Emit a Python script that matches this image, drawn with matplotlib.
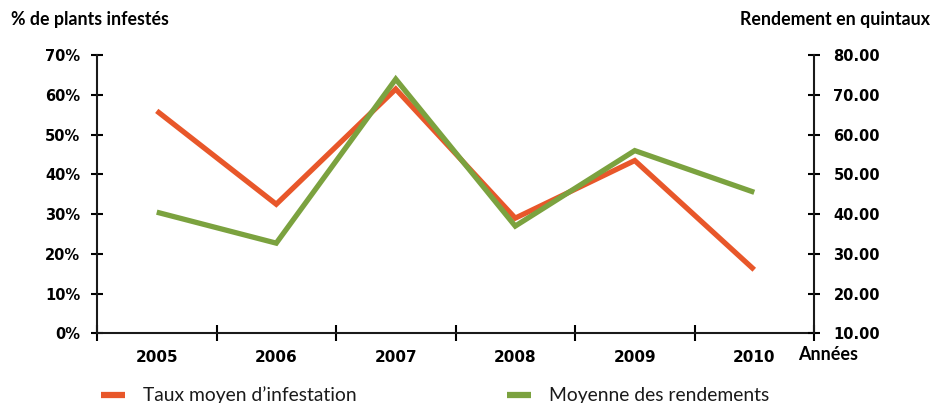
import matplotlib
matplotlib.use("Agg")
import matplotlib.pyplot as plt
import numpy as np

# infestation (left axis, %) and yield (right axis, quintaux) per year
years = ['2005', '2006', '2007', '2008', '2009', '2010']
infestation = [56, 32.5, 61.5, 29, 43.5, 16]
rendement = [40.5, 32.7, 74, 37, 56, 45.5]
left_ticks = [0, 10, 20, 30, 40, 50, 60, 70]
right_ticks = [10, 20, 30, 40, 50, 60, 70, 80]

orange = '#E8572A'
green = '#7BA23F'
plt.rcParams['font.family'] = ['Lato', 'DejaVu Sans']
tick_font = dict(family='DejaVu Sans', weight='bold', size=10.5)

fig = plt.figure(figsize=(9.35, 4.03), dpi=100)
ax = fig.add_axes([97/935, 1-333.3/403, (814-97)/935, (333.3-55.3)/403])
ax2 = ax.twinx()

x = np.arange(len(years))
ax.plot(x, infestation, color=orange, lw=3.8, solid_capstyle='butt', solid_joinstyle='miter')
ax2.plot(x, rendement, color=green, lw=3.8, solid_capstyle='butt', solid_joinstyle='miter')

ax.set_xlim(-0.5, len(years) - 0.5)
ax.set_ylim(0, 70)
ax2.set_ylim(10, 80)

ax.set_yticks(left_ticks)
ax.set_yticklabels([f'{v}%' for v in left_ticks], fontdict=tick_font)
ax2.set_yticks(right_ticks)
ax2.set_yticklabels([f'{v:.2f}' for v in right_ticks], fontdict=tick_font)

# boundaries carry the tick marks, centres carry the year labels
ax.set_xticks(np.arange(-0.5, len(years)), labels=[''] * (len(years) + 1))
ax.set_xticks(x, labels=years, minor=True, fontdict=dict(tick_font, size=11))
ax.tick_params(axis='x', which='major', direction='inout', length=11, width=1.5)
ax.tick_params(axis='x', which='minor', length=0, pad=12)

ax.tick_params(axis='y', direction='inout', length=8, width=1.5, pad=8)
ax2.tick_params(axis='y', direction='inout', length=8, width=1.5, pad=10)

for a in (ax, ax2):
    a.spines['top'].set_visible(False)
    for s in ('left', 'right', 'bottom'):
        a.spines[s].set_linewidth(1.5)
        a.spines[s].set_color('#1a1a1a')
ax.spines['right'].set_visible(False)
ax2.spines['left'].set_visible(False)
ax2.spines['bottom'].set_visible(False)

fig.text(11/935, 1-19/403, '% de plants infestés', fontsize=12.8, fontweight='bold',
         ha='left', va='center')
fig.text(930/935, 1-19/403, 'Rendement en quintaux', fontsize=12.8, fontweight='bold',
         ha='right', va='center')
fig.text(828/935, 1-355/403, 'Années', fontsize=13, fontweight='bold',
         ha='center', va='center')

# legend along the bottom edge
for x0, col, txt in [(101, orange, 'Taux moyen d\u2019infestation'),
                     (507, green, 'Moyenne des rendements')]:
    fig.add_artist(plt.Line2D([x0/935, (x0+24)/935], [1-395/403, 1-395/403],
                              color=col, lw=4.5, solid_capstyle='butt'))
    fig.text((x0+42)/935, 1-401/403, txt, fontsize=13.9, ha='left', va='baseline',
             color='#1a1a1a')

fig.savefig('out.png', dpi=100)
